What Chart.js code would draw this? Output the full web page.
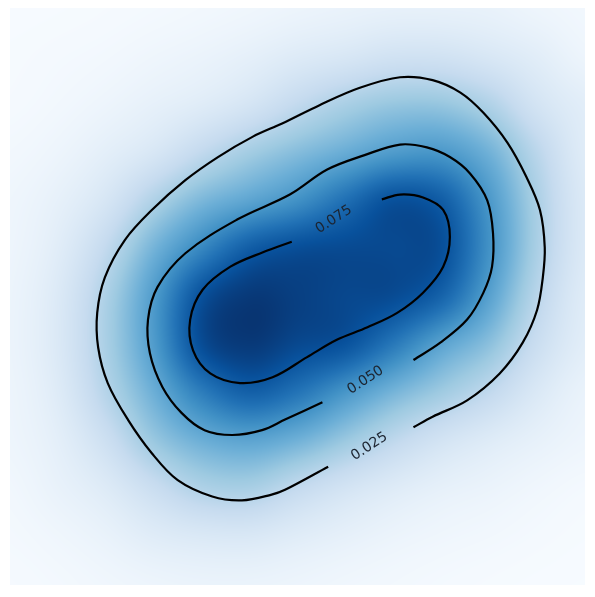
<!DOCTYPE html>
<html lang="en">
<head>
<meta charset="UTF-8">
<title>Density contours</title>
<style>
  html, body { margin: 0; padding: 0; background: #fff; }
  canvas { display: block; }
</style>
</head>
<body>
<canvas id="chart" width="595" height="597"></canvas>
<script src="https://cdn.jsdelivr.net/npm/chart.js"></script>
<script>
// grid node positions (data units), rows run top to bottom
const gridX = [-3, -2.5, -2, -1.5, -1, -0.5, 0, 0.5, 1, 1.5, 2, 2.5, 3];
const gridY = [3, 2.5, 2, 1.5, 1, 0.5, 0, -0.5, -1, -1.5, -2, -2.5, -3];

// density at each grid node
const density = [
  [0.0004, 0.0006, 0.0010, 0.0016, 0.0024, 0.0034, 0.0047, 0.0059, 0.0069, 0.0069, 0.0063, 0.0041, 0.0026],
  [0.0008, 0.0014, 0.0022, 0.0037, 0.0053, 0.0077, 0.0110, 0.0135, 0.0165, 0.0165, 0.0133, 0.0092, 0.0044],
  [0.0012, 0.0024, 0.0044, 0.0072, 0.0103, 0.0150, 0.0224, 0.0290, 0.0336, 0.0337, 0.0273, 0.0156, 0.0092],
  [0.0024, 0.0044, 0.0084, 0.0137, 0.0225, 0.0307, 0.0375, 0.0437, 0.0500, 0.0513, 0.0417, 0.0245, 0.0104],
  [0.0037, 0.0072, 0.0143, 0.0275, 0.0394, 0.0467, 0.0540, 0.0650, 0.0752, 0.0712, 0.0513, 0.0288, 0.0120],
  [0.0042, 0.0097, 0.0224, 0.0410, 0.0574, 0.0712, 0.0762, 0.0775, 0.0778, 0.0760, 0.0537, 0.0290, 0.0120],
  [0.0049, 0.0119, 0.0282, 0.0500, 0.0752, 0.0830, 0.0810, 0.0785, 0.0770, 0.0690, 0.0480, 0.0250, 0.0105],
  [0.0050, 0.0123, 0.0290, 0.0500, 0.0765, 0.0828, 0.0780, 0.0745, 0.0620, 0.0474, 0.0360, 0.0195, 0.0092],
  [0.0045, 0.0108, 0.0258, 0.0428, 0.0604, 0.0700, 0.0635, 0.0520, 0.0406, 0.0316, 0.0228, 0.0125, 0.0059],
  [0.0041, 0.0084, 0.0184, 0.0330, 0.0428, 0.0467, 0.0418, 0.0328, 0.0235, 0.0159, 0.0108, 0.0069, 0.0041],
  [0.0028, 0.0062, 0.0110, 0.0195, 0.0275, 0.0290, 0.0220, 0.0156, 0.0107, 0.0072, 0.0052, 0.0031, 0.0016],
  [0.0018, 0.0034, 0.0060, 0.0100, 0.0123, 0.0128, 0.0099, 0.0072, 0.0049, 0.0034, 0.0024, 0.0014, 0.0007],
  [0.0010, 0.0018, 0.0031, 0.0044, 0.0053, 0.0053, 0.0044, 0.0032, 0.0023, 0.0015, 0.0009, 0.0005, 0.0003]
];
const vmin = 0;
const vmax = 0.086;

// contour lines (open at the label gap)
const contour025 = [
  [1.21, -1.36], [1.41, -1.25], [1.77, -1.08], [2.11, -0.80], [2.35, -0.48], [2.50, -0.14],
  [2.56, 0.20], [2.58, 0.51], [2.53, 0.90], [2.39, 1.24], [2.19, 1.60], [1.94, 1.91],
  [1.70, 2.12], [1.41, 2.25], [1.07, 2.28], [0.65, 2.17], [0.23, 1.99], [-0.16, 1.80],
  [-0.47, 1.66], [-0.83, 1.45], [-1.17, 1.21], [-1.52, 0.90], [-1.80, 0.59], [-2.01, 0.20],
  [-2.09, -0.17], [-2.08, -0.53], [-1.98, -0.90], [-1.77, -1.28], [-1.52, -1.63], [-1.25, -1.91],
  [-0.89, -2.08], [-0.58, -2.12], [-0.27, -2.06], [-0.13, -2.01], [0.32, -1.77]
];
const contour050 = [
  [1.21, -0.66], [1.49, -0.48], [1.77, -0.24], [1.94, 0.04], [2.03, 0.31], [2.04, 0.66],
  [1.98, 1.00], [1.80, 1.28], [1.59, 1.45], [1.35, 1.55], [1.07, 1.58], [0.70, 1.47],
  [0.31, 1.32], [-0.08, 1.06], [-0.63, 0.80], [-1.17, 0.45], [-1.46, 0.10], [-1.56, -0.24],
  [-1.54, -0.59], [-1.41, -0.94], [-1.21, -1.21], [-0.97, -1.39], [-0.68, -1.44], [-0.37, -1.39],
  [-0.13, -1.28], [0.26, -1.10]
];
const contour075 = [
  [0.88, 1.01], [1.07, 1.06], [1.31, 1.03], [1.52, 0.90], [1.59, 0.62], [1.52, 0.31],
  [1.31, 0.04], [1.04, -0.17], [0.73, -0.32], [0.41, -0.45], [0.10, -0.63], [-0.26, -0.84],
  [-0.60, -0.90], [-0.91, -0.80], [-1.09, -0.56], [-1.12, -0.24], [-0.99, 0.07], [-0.70, 0.31],
  [-0.36, 0.46], [-0.06, 0.57]
];

const labelText = ['0.025', '0.050', '0.075'];
const labelX = [0.75, 0.71, 0.38];
const labelY = [-1.56, -0.87, 0.80];
const labelAngle = [-33, -33, -33];

const blues = ['#f7fbff', '#deebf7', '#c6dbef', '#9ecae1', '#6baed6', '#4292c6', '#2171b5', '#08519c', '#08306b']
  .map(h => [parseInt(h.slice(1, 3), 16), parseInt(h.slice(3, 5), 16), parseInt(h.slice(5, 7), 16)]);

function colorAt(t) {
  t = Math.max(0, Math.min(1, t)) * (blues.length - 1);
  const k = Math.min(blues.length - 2, Math.floor(t));
  const f = t - k;
  const a = blues[k], b = blues[k + 1];
  return [a[0] + (b[0] - a[0]) * f, a[1] + (b[1] - a[1]) * f, a[2] + (b[2] - a[2]) * f];
}

function cr(p0, p1, p2, p3, t) {
  return p1 + 0.5 * t * (p2 - p0 + t * (2 * p0 - 5 * p1 + 4 * p2 - p3 + t * (3 * (p1 - p2) + p3 - p0)));
}

function cell(r, c) {
  r = Math.max(0, Math.min(gridY.length - 1, r));
  c = Math.max(0, Math.min(gridX.length - 1, c));
  return density[r][c];
}

// smooth (bicubic) look-up, like imshow's interpolation
function sample(fc, fr) {
  const c = Math.floor(fc), r = Math.floor(fr);
  const tc = fc - c, tr = fr - r;
  const rows = [];
  for (let k = -1; k <= 2; k++) {
    rows.push(cr(cell(r + k, c - 1), cell(r + k, c), cell(r + k, c + 1), cell(r + k, c + 2), tc));
  }
  return cr(rows[0], rows[1], rows[2], rows[3], tr);
}

const heatmap = {
  id: 'heatmap',
  beforeDatasetsDraw(chart) {
    const { ctx, chartArea: a, scales: { x, y } } = chart;
    const w = Math.round(a.right - a.left), h = Math.round(a.bottom - a.top);
    const off = document.createElement('canvas');
    off.width = w; off.height = h;
    const octx = off.getContext('2d');
    const img = octx.createImageData(w, h);
    const dx = gridX[1] - gridX[0], dy = gridY[1] - gridY[0];
    for (let j = 0; j < h; j++) {
      const fr = (y.getValueForPixel(a.top + j + 0.5) - gridY[0]) / dy;
      for (let i = 0; i < w; i++) {
        const fc = (x.getValueForPixel(a.left + i + 0.5) - gridX[0]) / dx;
        const v = sample(fc, fr);
        const col = colorAt((v - vmin) / (vmax - vmin));
        const p = (j * w + i) * 4;
        img.data[p] = col[0]; img.data[p + 1] = col[1]; img.data[p + 2] = col[2]; img.data[p + 3] = 255;
      }
    }
    octx.putImageData(img, 0, 0);
    ctx.drawImage(off, a.left, a.top);
  }
};

const contourLabels = {
  id: 'contourLabels',
  afterDatasetsDraw(chart) {
    const { ctx, scales: { x, y } } = chart;
    ctx.save();
    ctx.font = '14px "DejaVu Sans", sans-serif';
    ctx.fillStyle = '#1c2430';
    ctx.textAlign = 'center';
    ctx.textBaseline = 'middle';
    labelText.forEach((t, i) => {
      ctx.save();
      ctx.translate(x.getPixelForValue(labelX[i]), y.getPixelForValue(labelY[i]));
      ctx.rotate(labelAngle[i] * Math.PI / 180);
      ctx.fillText(t, 0, 0);
      ctx.restore();
    });
    ctx.restore();
  }
};

const toPts = arr => arr.map(p => ({ x: p[0], y: p[1] }));
const lineStyle = { showLine: true, borderColor: '#000', borderWidth: 2.2, pointRadius: 0, tension: 0.35, fill: false };

new Chart(document.getElementById('chart'), {
  type: 'scatter',
  data: {
    datasets: [
      { label: labelText[0], data: toPts(contour025), ...lineStyle },
      { label: labelText[1], data: toPts(contour050), ...lineStyle },
      { label: labelText[2], data: toPts(contour075), ...lineStyle }
    ]
  },
  options: {
    responsive: false,
    animation: false,
    layout: { padding: { left: 10, top: 8, right: 10, bottom: 12 } },
    plugins: { legend: { display: false }, tooltip: { enabled: false } },
    scales: {
      x: { type: 'linear', min: -3, max: 3, display: false },
      y: { type: 'linear', min: -3, max: 3, display: false }
    }
  },
  plugins: [heatmap, contourLabels]
});
</script>
</body>
</html>
